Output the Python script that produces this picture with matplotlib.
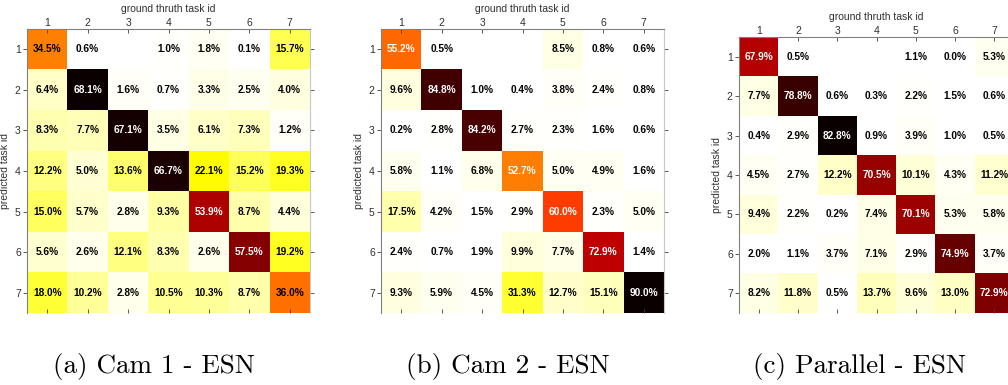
import numpy as np
import matplotlib.pyplot as plt
from matplotlib.colors import PowerNorm

nan = np.nan

task_ids = ['1', '2', '3', '4', '5', '6', '7']

# rows = predicted task id, columns = ground truth task id (percent)
cam1_esn = [
    [34.5, 0.6, nan, 1.0, 1.8, 0.1, 15.7],
    [6.4, 68.1, 1.6, 0.7, 3.3, 2.5, 4.0],
    [8.3, 7.7, 67.1, 3.5, 6.1, 7.3, 1.2],
    [12.2, 5.0, 13.6, 66.7, 22.1, 15.2, 19.3],
    [15.0, 5.7, 2.8, 9.3, 53.9, 8.7, 4.4],
    [5.6, 2.6, 12.1, 8.3, 2.6, 57.5, 19.2],
    [18.0, 10.2, 2.8, 10.5, 10.3, 8.7, 36.0],
]
cam2_esn = [
    [55.2, 0.5, nan, nan, 8.5, 0.8, 0.6],
    [9.6, 84.8, 1.0, 0.4, 3.8, 2.4, 0.8],
    [0.2, 2.8, 84.2, 2.7, 2.3, 1.6, 0.6],
    [5.8, 1.1, 6.8, 52.7, 5.0, 4.9, 1.6],
    [17.5, 4.2, 1.5, 2.9, 60.0, 2.3, 5.0],
    [2.4, 0.7, 1.9, 9.9, 7.7, 72.9, 1.4],
    [9.3, 5.9, 4.5, 31.3, 12.7, 15.1, 90.0],
]
parallel_esn = [
    [67.9, 0.5, nan, nan, 1.1, 0.0, 5.3],
    [7.7, 78.8, 0.6, 0.3, 2.2, 1.5, 0.6],
    [0.4, 2.9, 82.8, 0.9, 3.9, 1.0, 0.5],
    [4.5, 2.7, 12.2, 70.5, 10.1, 4.3, 11.2],
    [9.4, 2.2, 0.2, 7.4, 70.1, 5.3, 5.8],
    [2.0, 1.1, 3.7, 7.1, 2.9, 74.9, 3.7],
    [8.2, 11.8, 0.5, 13.7, 9.6, 13.0, 72.9],
]
captions = ['(a) Cam 1 - ESN', '(b) Cam 2 - ESN', '(c) Parallel - ESN']

# axes boxes in figure pixels: left, top, width, height
W, H = 1008, 385
boxes = [(27, 29, 283, 284), (381, 29, 283, 284), (739, 37, 275, 276)]
caption_x = [154, 508, 860]
gammas = [1.2, 1.5, 1.5]

fig = plt.figure(figsize=(W / 100, H / 100), dpi=100)
edge = '#404040'
label_kw = dict(family='Liberation Sans', fontsize=7.5, color='#303030')

for data, (l, t, w, h), cap, cx, g in zip([cam1_esn, cam2_esn, parallel_esn], boxes,
                                          captions, caption_x, gammas):
    m = np.array(data, dtype=float)
    ax = fig.add_axes([l / W, 1 - (t + h) / H, w / W, h / H])
    vmax = np.nanmax(m)
    ax.imshow(np.nan_to_num(m), cmap='hot_r', norm=PowerNorm(g, vmin=0, vmax=vmax),
              aspect='auto', interpolation='nearest')
    for i in range(7):
        for j in range(7):
            v = m[i, j]
            if np.isnan(v):
                continue
            color = 'white' if v / vmax > 0.55 else 'black'
            ax.text(j, i, f'{v:.1f}%', ha='center', va='center', fontsize=7.3,
                    fontweight='bold', color=color, family='Liberation Sans')
    ax.set_xticks(range(7))
    ax.set_yticks(range(7))
    ax.set_xticklabels(task_ids, **label_kw)
    ax.set_yticklabels(task_ids, **label_kw)
    ax.xaxis.tick_top()
    ax.xaxis.set_label_position('top')
    ax.tick_params(axis='x', top=True, bottom=True, direction='in', length=3,
                   width=0.6, color=edge, pad=1)
    ax.tick_params(axis='y', left=True, right=True, direction='out', length=3,
                   width=0.6, color=edge, pad=1.5)
    ax.set_xlabel('ground thruth task id', labelpad=4, **label_kw)
    ax.set_ylabel('predicted task id', labelpad=3.5, **label_kw)
    for side in ['top', 'left']:
        ax.spines[side].set_color('#808080')
        ax.spines[side].set_linewidth(0.8)
    ax.spines['right'].set_color('#c8c8c8')
    ax.spines['right'].set_linewidth(0.8)
    ax.spines['bottom'].set_visible(False)
    fig.text(cx / W, 1 - 367 / H, cap, ha='center', va='center', fontsize=19.5, family='cmr10')

fig.savefig('out.png', dpi=100)
